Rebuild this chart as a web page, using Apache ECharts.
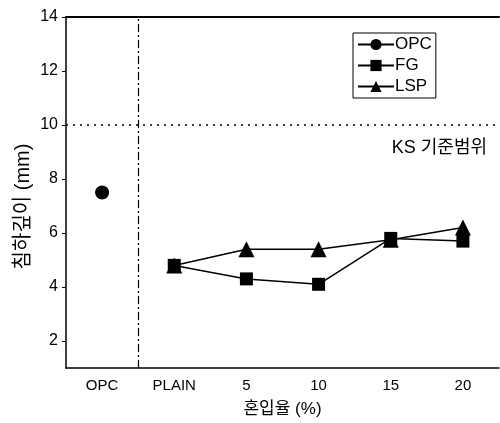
<!DOCTYPE html>
<html>
<head>
<meta charset="utf-8">
<script src="https://cdn.jsdelivr.net/npm/echarts@6/dist/echarts.min.js"></script>
<style>
  html, body { margin: 0; padding: 0; background: #fff; }
  #chart { width: 500px; height: 423px; }
</style>
</head>
<body>
<div id="chart"></div>
<script>
// 혼입율 categories
var categories = ['OPC', 'PLAIN', '5', '10', '15', '20'];
// 침하깊이 (mm)
var opcValues = [7.5, '-', '-', '-', '-', '-'];
var fgValues = ['-', 4.8, 4.3, 4.1, 5.8, 5.7];
var lspValues = ['-', 4.8, 5.4, 5.4, 5.75, 6.2];
var ksLimit = 10;
var opcBoundary = 1; // OPC / 혼입 구간 경계 (category boundary)

var font = 'Liberation Sans, Arial, "Noto Sans CJK KR", sans-serif';
var black = '#000';

var chart = echarts.init(document.getElementById('chart'));
var option = {
    animation: false,
    textStyle: { fontFamily: font, color: black },
    grid: { left: 66, top: 17, right: 1, bottom: 55 },
    legend: {
        orient: 'vertical',
        left: 353,
        top: 33,
        data: ['OPC', 'FG', 'LSP'],
        itemWidth: 36,
        itemHeight: 14,
        itemGap: 4,
        padding: [3, 4, 3, 4],
        borderColor: black,
        borderWidth: 1,
        textStyle: { fontSize: 17, color: black, fontFamily: font, padding: [0, 0, 0, -4] }
    },
    xAxis: [{
        type: 'category',
        data: categories,
        boundaryGap: true,
        axisLine: { lineStyle: { color: black, width: 1.5 } },
        axisTick: { inside: true, alignWithLabel: true, length: 5, lineStyle: { color: black } },
        axisLabel: { color: black, fontSize: 15, margin: 10, fontFamily: font },
        splitLine: { show: false },
        name: '혼입율 (%)',
        nameLocation: 'middle',
        nameGap: 33,
        nameTextStyle: { fontSize: 17, color: black, fontFamily: font }
    }, {
        type: 'value',
        position: 'top',
        min: 0,
        max: 6,
        axisLine: { show: true, lineStyle: { color: black, width: 2 } },
        axisTick: { show: false },
        axisLabel: { show: false },
        splitLine: { show: false }
    }],
    yAxis: {
        type: 'value',
        min: 1,
        max: 14,
        splitNumber: 7,
        axisLine: { show: true, lineStyle: { color: black, width: 1.5 } },
        axisTick: { show: true, inside: false, length: 4, lineStyle: { color: black } },
        axisLabel: { color: black, fontSize: 16, margin: 8, showMinLabel: false, fontFamily: font },
        splitLine: { show: false },
        name: '침하깊이 (mm)',
        nameLocation: 'middle',
        nameGap: 33,
        nameMoveOverlap: false,
        nameTextStyle: { fontSize: 20, color: black, fontFamily: font, padding: [0, 28, 0, 0] }
    },
    series: [{
        name: 'OPC',
        type: 'line',
        data: opcValues,
        symbol: 'circle',
        symbolSize: 14,
        itemStyle: { color: black },
        lineStyle: { color: black, width: 1.5 }
    }, {
        name: 'FG',
        type: 'line',
        data: fgValues,
        symbol: 'rect',
        symbolSize: 13,
        itemStyle: { color: black },
        lineStyle: { color: black, width: 1.5 },
        markLine: {
            silent: true,
            symbol: 'none',
            lineStyle: { color: black, type: [2, 5], width: 1.5 },
            label: {
                show: true,
                position: 'insideEndBottom',
                formatter: 'KS 기준범위',
                color: black,
                fontSize: 18,
                distance: [12, 14],
                fontFamily: font
            },
            data: [{ yAxis: ksLimit }]
        }
    }, {
        name: 'LSP',
        type: 'line',
        data: lspValues,
        symbol: 'triangle',
        symbolSize: 16,
        itemStyle: { color: black },
        lineStyle: { color: black, width: 1.5 }
    }, {
        name: 'boundary',
        type: 'line',
        xAxisIndex: 1,
        data: [],
        markLine: {
            silent: true,
            symbol: 'none',
            label: { show: false },
            lineStyle: { color: black, width: 1.2, type: [8, 3, 2, 3] },
            data: [{ xAxis: opcBoundary }]
        }
    }]
};
chart.setOption(option);
</script>
</body>
</html>
